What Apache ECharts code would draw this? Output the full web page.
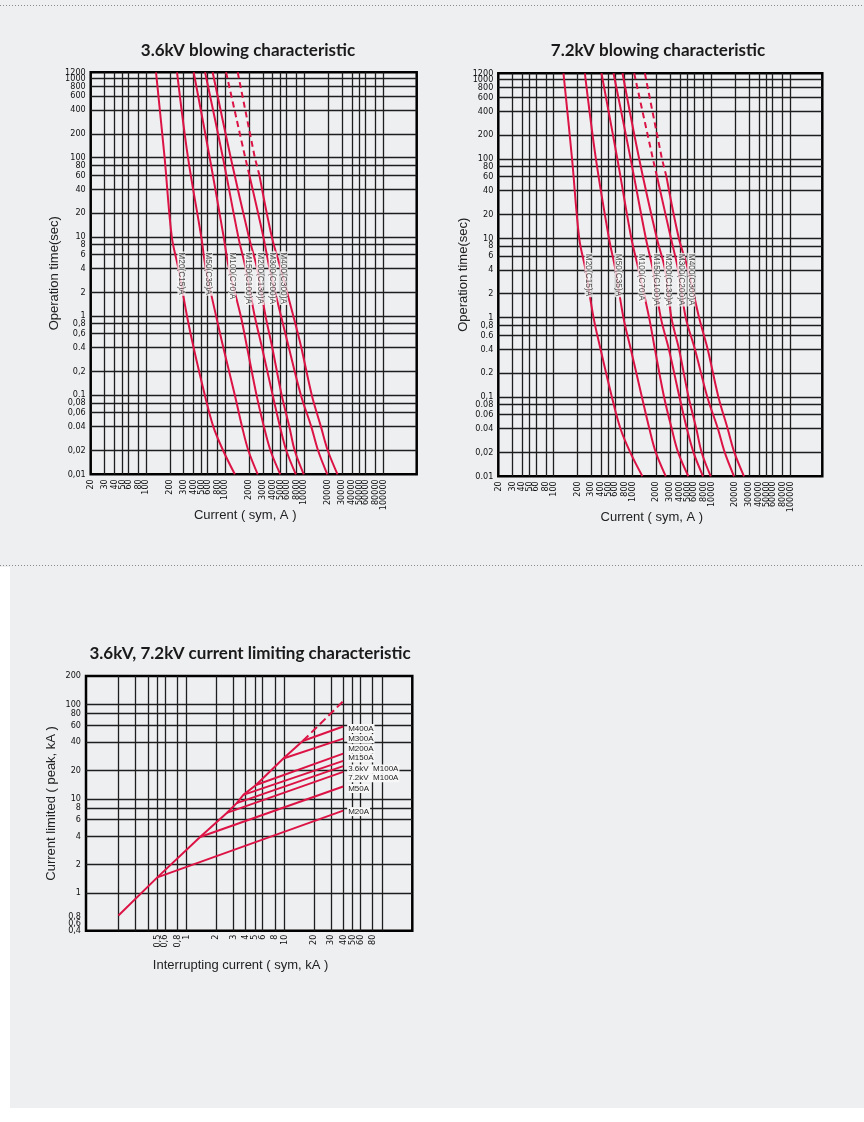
<!DOCTYPE html>
<html>
<head>
<meta charset="utf-8">
<script src="https://cdn.jsdelivr.net/npm/echarts@6/dist/echarts.min.js"></script>
<style>
  html, body { margin: 0; padding: 0; background: #fff; }
  #chart { width: 864px; height: 1122px; }
</style>
</head>
<body>
<div id="chart"></div>
<script>
// --- blowing characteristic: operation time (s) levels the curves were read at
const blowTimes = [1200, 100, 10, 4, 1, 0.4, 0.1, 0.04, 0.02, 0.01];
const fuseNames = ['M20(C15)A', 'M50(C35)A', 'M100(C70)A', 'M150(C100)A', 'M200(C130)A', 'M300(C200)A', 'M400(C300)A'];

// current (A) of each fuse at blowTimes
const amps36 = [
  [134, 172, 212, 257, 330, 400, 555, 710, 945, 1330],
  [247, 340, 500, 570, 770, 950, 1330, 1640, 1970, 2590],
  [401, 640, 960, 1120, 1580, 1900, 2500, 3100, 3750, 4990],
  [559, 940, 1470, 1820, 2370, 2930, 4000, 4950, 5950, 7850],
  [697, 1180, 2000, 2540, 3250, 3950, 5200, 6500, 7600, 9890],
  [1030, 1800, 3050, 3650, 5100, 6400, 9100, 12300, 15000, 19630],
  [1445, 2380, 3900, 5050, 7300, 9200, 12500, 16300, 19900, 26430]
];
const amps72 = [
  [134, 172, 212, 255, 322, 395, 550, 705, 940, 1340],
  [250, 345, 505, 610, 770, 955, 1320, 1640, 1980, 2650],
  [406, 645, 970, 1200, 1630, 1930, 2520, 3150, 3800, 5120],
  [577, 950, 1480, 1820, 2290, 2900, 3950, 4900, 5950, 7850],
  [750, 1220, 2040, 2600, 3120, 3900, 5150, 6450, 7550, 9840],
  [1054, 1820, 3080, 3800, 4740, 6200, 8900, 12100, 14800, 19400],
  [1439, 2370, 3880, 5100, 7000, 9000, 12300, 16100, 19600, 25950]
];
// curves are dashed above this time; current where the dash stops
const dashTime = 60;
const dashAmps36 = [null, null, null, null, null, 2030, 2720];
const dashAmps72 = [null, null, null, null, null, 2050, 2700];

const blowXTicks = [20, 30, 40, 50, 60, 80, 100, 200, 300, 400, 500, 600, 800, 1000, 2000, 3000, 4000, 5000, 6000, 8000,
  10000, 20000, 30000, 40000, 50000, 60000, 80000, 100000];
const blowYTicks = [0.01, 0.02, 0.04, 0.06, 0.08, 0.1, 0.2, 0.4, 0.6, 0.8, 1, 2, 4, 6, 8, 10, 20, 40, 60, 80, 100, 200, 400, 600, 800, 1000, 1200];
const blowYLabels36 = ['0,01', '0,02', '0.04', '0,06', '0,08', '0.1', '0,2', '0.4', '0,6', '0,8', '1', '2', '4', '6', '8', '10', '20', '40', '60', '80', '100', '200', '400', '600', '800', '1000', '1200'];
const blowYLabels72 = ['0.01', '0,02', '0.04', '0.06', '0.08', '0,1', '0.2', '0.4', '0.6', '0,8', '1', '2', '4', '6', '8', '10', '20', '40', '60', '80', '100', '200', '400', '600', '800', '1000', '1200'];

// --- current limiting: [interrupting kA, peak kA]
const envelope = [[0.2, 0.58], [0.5, 1.47], [1.37, 3.93], [2.57, 7.08], [3.25, 9.0], [3.8, 11.0], [5.12, 14.0], [9.75, 26.7], [15.4, 40.9]];
const envelopeDashed = [[15.4, 40.9], [40, 108]];
const limitNames = ['M20A', 'M50A', '7.2kV  M100A', '3.6kV  M100A', 'M150A', 'M200A', 'M300A', 'M400A'];
const limitEndSym = 40;
const limitEndPeak = [7.5, 13.5, 19.3, 22.2, 25.2, 30.1, 43.4, 58.3];

const limXTicks = [0.2, 0.3, 0.4, 0.5, 0.6, 0.8, 1, 2, 3, 4, 5, 6, 8, 10, 20, 30, 40, 50, 60, 80, 100];
const limXLabels = ['', '', '', '0,5', '0,6', '0,8', '1', '2', '3', '4', '5', '6', '8', '10', '20', '30', '40', '50', '60', '80', ''];
const limYTicks = [0.4, 1, 2, 4, 6, 8, 10, 20, 40, 60, 80, 100, 200];
const limYLabels = ['0,8\n0,6\n0,4\n \n ', '1', '2', '4', '6', '8', '10', '20', '40', '60', '80', '100', '200'];

// ---------------------------------------------------------------
const RED = '#dc1446';
const COND = '"DejaVu Sans Condensed", sans-serif';
const SANS = '"Liberation Sans", Arial, sans-serif';
const gridLine = { show: true, lineStyle: { color: '#1e1e1e', width: 1.3 } };
const X_MAX = [265000, 255000];

function pickLabel(ticks, labels) {
  return function (v) {
    let best = 0;
    ticks.forEach((t, i) => {
      if (Math.abs(Math.log(t / v)) < Math.abs(Math.log(ticks[best] / v))) best = i;
    });
    return labels[best];
  };
}

function inner(ticks, lo, hi) {
  return ticks.filter(t => t > lo && t < hi);
}

// echarts drops a label that crowds the end label of an axis, so the crowded
// end labels of the blowing axes sit on extra, otherwise empty axes of the same grid
function blowXAxis(gi, ticks, main) {
  const ax = {
    type: 'log', gridIndex: gi, position: 'bottom', min: 20, max: X_MAX[gi],
    axisLine: { show: false },
    axisTick: { show: false, customValues: inner(blowXTicks, 20, X_MAX[gi]) },
    axisLabel: {
      customValues: ticks, rotate: 90, margin: 5, fontSize: 9, fontFamily: COND, color: '#111',
      showMinLabel: true, showMaxLabel: true,
      formatter: v => String(Math.round(v))
    },
    splitLine: main ? gridLine : { show: false }
  };
  if (main) {
    Object.assign(ax, {
      name: 'Current ( sym, A )', nameLocation: 'middle', nameGap: 34,
      nameTextStyle: { fontSize: 13, fontFamily: SANS, color: '#222', padding: [0, 17, 0, 0] }
    });
  }
  return ax;
}

function blowYAxis(gi, ticks, labels, gap) {
  const ax = {
    type: 'log', gridIndex: gi, position: 'left', min: 0.01, max: 1200,
    axisLine: { show: false },
    axisTick: { show: false, customValues: inner(blowYTicks, 0.01, 1200) },
    axisLabel: {
      customValues: ticks, margin: 5, fontSize: 9, fontFamily: COND, color: '#111',
      showMinLabel: true, showMaxLabel: true,
      lineHeight: 8, formatter: pickLabel(blowYTicks, labels)
    },
    splitLine: gap ? gridLine : { show: false }
  };
  if (gap) {
    Object.assign(ax, {
      name: 'Operation time(sec)', nameLocation: 'middle', nameGap: gap,
      nameTextStyle: { fontSize: 13, fontFamily: SANS, color: '#222' }
    });
  }
  return ax;
}

function blowSeries(amps, dashAmps, gi) {
  const out = [];
  amps.forEach((row, k) => {
    const pts = row.map((a, i) => [a, blowTimes[i]]);
    const base = {
      type: 'line', xAxisIndex: gi, yAxisIndex: gi, showSymbol: false, smooth: 0.35,
      silent: true, z: 3, lineStyle: { color: RED, width: 2 }
    };
    if (dashAmps[k] == null) {
      out.push(Object.assign({}, base, { name: fuseNames[k], data: pts }));
    } else {
      const cut = [dashAmps[k], dashTime];
      out.push(Object.assign({}, base, {
        name: fuseNames[k] + ' dashed', smooth: false,
        data: pts.filter(p => p[1] > dashTime).concat([cut]),
        lineStyle: { color: RED, width: 2, type: [6, 4] }
      }));
      out.push(Object.assign({}, base, {
        name: fuseNames[k], data: [cut].concat(pts.filter(p => p[1] < dashTime))
      }));
    }
  });
  // rotated fuse labels, hung on each curve's 4 s point
  // (offset is in the label's rotated frame: [down, left])
  const at = blowTimes.indexOf(4);
  out.push({
    type: 'scatter', xAxisIndex: gi, yAxisIndex: gi, symbolSize: 0, silent: true, z: 6,
    data: amps.map((row, k) => ({
      value: [row[at], blowTimes[at]],
      label: {
        show: true, formatter: fuseNames[k], position: [0, 0], offset: [-17, -3],
        rotate: -90, align: 'left', verticalAlign: 'middle',
        fontSize: 8.3, fontFamily: SANS, color: '#222',
        backgroundColor: '#f7f7f7', padding: [0, 1, 0, 1]
      }
    }))
  });
  return out;
}

function limitSeries(gi) {
  const out = [];
  const labelShift = [1, 2, 6, 3, -3, -5, 0, 2];
  out.push({
    type: 'line', name: 'envelope', xAxisIndex: gi, yAxisIndex: gi, showSymbol: false, silent: true,
    data: envelope, lineStyle: { color: RED, width: 2 }, z: 3
  });
  out.push({
    type: 'line', name: 'envelope dashed', xAxisIndex: gi, yAxisIndex: gi, showSymbol: false, silent: true,
    data: envelopeDashed, lineStyle: { color: RED, width: 2, type: [8, 4] }, z: 3
  });
  limitNames.forEach((nm, k) => {
    out.push({
      type: 'line', name: nm, xAxisIndex: gi, yAxisIndex: gi, showSymbol: false, silent: true, z: 3,
      data: [envelope[k + 1], [limitEndSym, limitEndPeak[k]]],
      lineStyle: { color: RED, width: 2 },
      endLabel: {
        show: true, formatter: nm, distance: 4, offset: [0, labelShift[k]],
        fontSize: 8, fontFamily: SANS, color: '#222',
        backgroundColor: '#f7f7f7', padding: [1, 1, 0, 1]
      }
    });
  });
  return out;
}

const chart = echarts.init(document.getElementById('chart'), null, { renderer: 'canvas' });

const titleStyle = { align: 'center', verticalAlign: 'middle', fontSize: 17, fontWeight: 'bold', fontFamily: 'Lato, sans-serif', fill: '#1a1a1a' };
const xMain = blowXTicks.slice(0, -1);
const yMain = blowYTicks.slice(0, -2);

const option = {
  animation: false,
  backgroundColor: '#eeeff1',
  graphic: [
    { type: 'rect', z: -10, silent: true, shape: { x: 0, y: 567, width: 10, height: 555 }, style: { fill: '#fff' } },
    { type: 'rect', z: -10, silent: true, shape: { x: 0, y: 1108, width: 864, height: 14 }, style: { fill: '#fff' } },
    { type: 'line', silent: true, shape: { x1: 0, y1: 5.5, x2: 864, y2: 5.5 }, style: { stroke: '#8a8a8a', lineWidth: 1, lineDash: [1, 2] } },
    { type: 'line', silent: true, shape: { x1: 0, y1: 565.5, x2: 864, y2: 565.5 }, style: { stroke: '#8a8a8a', lineWidth: 1, lineDash: [1, 2] } },
    { type: 'text', silent: true, x: 248, y: 51, style: Object.assign({ text: '3.6kV blowing characteristic' }, titleStyle) },
    { type: 'text', silent: true, x: 658, y: 51, style: Object.assign({ text: '7.2kV blowing characteristic' }, titleStyle) },
    { type: 'text', silent: true, x: 250, y: 654, style: Object.assign({ text: '3.6kV, 7.2kV current limiting characteristic' }, titleStyle) }
  ],
  grid: [
    { left: 90.7, top: 72.3, width: 326, height: 402, show: true, borderColor: '#000', borderWidth: 2.5, backgroundColor: 'transparent', outerBoundsMode: 'none' },
    { left: 498.3, top: 73.3, width: 324, height: 403, show: true, borderColor: '#000', borderWidth: 2.5, backgroundColor: 'transparent', outerBoundsMode: 'none' },
    { left: 86, top: 676, width: 326.3, height: 254.7, show: true, borderColor: '#000', borderWidth: 2.5, backgroundColor: 'transparent', outerBoundsMode: 'none' }
  ],
  xAxis: [
    blowXAxis(0, xMain, true),
    blowXAxis(1, xMain, true),
    {
      type: 'log', gridIndex: 2, min: 0.093, max: 204,
      axisLine: { show: false },
      axisTick: { show: false, customValues: limXTicks },
      axisLabel: {
        customValues: limXTicks, rotate: 90, margin: 4, fontSize: 9, fontFamily: COND, color: '#111',
        showMinLabel: true, showMaxLabel: true,
        formatter: pickLabel(limXTicks, limXLabels)
      },
      splitLine: gridLine,
      name: 'Interrupting current ( sym, kA )', nameLocation: 'middle', nameGap: 28,
      nameTextStyle: { fontSize: 13, fontFamily: SANS, color: '#222', padding: [0, 17, 0, 0] }
    },
    blowXAxis(0, [100000], false),
    blowXAxis(1, [100000], false)
  ],
  yAxis: [
    blowYAxis(0, yMain, blowYLabels36, 30),
    blowYAxis(1, yMain, blowYLabels72, 28),
    {
      type: 'log', gridIndex: 2, min: 0.4, max: 200,
      axisLine: { show: false },
      axisTick: { show: false, customValues: inner(limYTicks, 0.4, 200) },
      axisLabel: {
        customValues: limYTicks, margin: 5, fontSize: 9, fontFamily: COND, color: '#111',
        showMinLabel: true, showMaxLabel: true,
        lineHeight: 7, formatter: pickLabel(limYTicks, limYLabels)
      },
      splitLine: gridLine,
      name: 'Current limited ( peak, kA )', nameLocation: 'middle', nameGap: 28,
      nameTextStyle: { fontSize: 13, fontFamily: SANS, color: '#222' }
    },
    blowYAxis(0, [1000], blowYLabels36, 0),
    blowYAxis(1, [1000], blowYLabels72, 0),
    blowYAxis(0, [1200], blowYLabels36, 0),
    blowYAxis(1, [1200], blowYLabels72, 0)
  ],
  series: [].concat(
    blowSeries(amps36, dashAmps36, 0),
    blowSeries(amps72, dashAmps72, 1),
    limitSeries(2)
  )
};

chart.setOption(option);
</script>
</body>
</html>
